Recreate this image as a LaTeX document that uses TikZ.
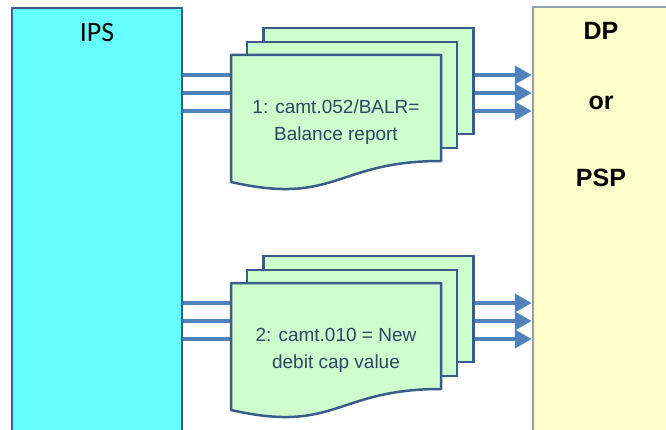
\documentclass[tikz,border=0pt]{standalone}
\usepackage{fontspec}
\setmainfont{Liberation Sans}
\newfontfamily\calibri{Carlito}
\usepackage{tikz}
\usetikzlibrary{positioning,arrows.meta}
\definecolor{ipsfill}{HTML}{66FFFF}
\definecolor{ipsline}{HTML}{3C5F8E}
\definecolor{dpfill}{HTML}{FFFFCC}
\definecolor{dpline}{HTML}{8FA3AD}
\definecolor{docfill}{HTML}{CCFFCC}
\definecolor{docline}{HTML}{385D8A}
\definecolor{flowblue}{HTML}{4F81BD}
\definecolor{doctext}{HTML}{2F4566}
\tikzset{
box/.style={draw, line width=2.5pt, inner sep=0pt}, % the two tall boxes
page/.style={draw=docline, fill=docfill, line width=2.5pt, inner sep=0pt, minimum width=210pt, minimum height=106pt}, % back pages of a stack
flow/.style={draw=flowblue, line width=3.8pt, -{Triangle[length=17pt,width=18pt]}}, % message arrows
msg/.style={align=center, text=doctext, font=\fontsize{19}{27}\selectfont}, % message text
}

\begin{document}
\begin{tikzpicture}[x=1pt, y=-1pt]
        \useasboundingbox (0,0) rectangle (666,430);
        \clip (0,0) rectangle (666,430);
        \node[box, draw=ipsline, fill=ipsfill, minimum width=170pt, minimum height=442pt] at (97,229) (ips) {};
        \node[box, draw=dpline, fill=dpfill, minimum width=157pt, minimum height=443pt] at (611.5,228.5) (dp) {};
        \node[anchor=base, font=\calibri\fontsize{28}{30}\selectfont] at (97,42) (ipslabel) {IPS};
        \node[anchor=base, font=\bfseries\fontsize{25}{28}\selectfont] at (601,40) (dplabel) {DP};
        \node[anchor=base, font=\bfseries\fontsize{25}{28}\selectfont] at (601,110) (orlabel) {or};
        \node[anchor=base, font=\bfseries\fontsize{25}{28}\selectfont] at (601,187) (psplabel) {PSP};
        % arrows run behind the stacks
        \draw[flow] (ips.east |- 0,75) -- (dp.west |- 0,75);
        \draw[flow] (ips.east |- 0,93) -- (dp.west |- 0,93);
        \draw[flow] (ips.east |- 0,111) -- (dp.west |- 0,111);
        \draw[flow] (ips.east |- 0,303) -- (dp.west |- 0,303);
        \draw[flow] (ips.east |- 0,321) -- (dp.west |- 0,321);
        \draw[flow] (ips.east |- 0,339) -- (dp.west |- 0,339);
        % stack 1
        \node[page] at (368.5,81) (s1c) {};
        \node[page] at (352,95) (s1b) {};
        \draw[draw=docline, fill=docfill, line width=2.5pt, line join=round]
        (231,55) -- (441,55) -- (441,161) .. controls (336,161) and (336,206) .. (231,182) -- cycle;
        \node[msg] at (336,122) (s1) {1: camt.052/BALR=\\Balance report};
        % stack 2
        \node[page] at (368.5,309) (s2c) {};
        \node[page] at (352,323) (s2b) {};
        \draw[draw=docline, fill=docfill, line width=2.5pt, line join=round]
        (231,283) -- (441,283) -- (441,389) .. controls (336,389) and (336,434) .. (231,410) -- cycle;
        \node[msg] at (336,350) (s2) {2: camt.010 = New\\debit cap value};
    \end{tikzpicture}
\end{document}
